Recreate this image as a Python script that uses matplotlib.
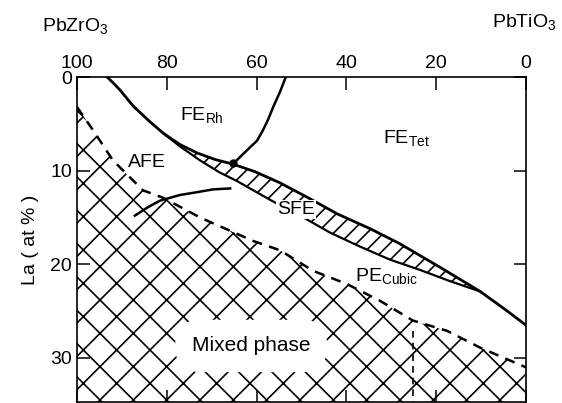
import numpy as np
import matplotlib
matplotlib.use("Agg")
import matplotlib.pyplot as plt

plt.rcParams["font.family"] = ["Liberation Sans", "DejaVu Sans"]
plt.rcParams["mathtext.default"] = "regular"
plt.rcParams["hatch.linewidth"] = 1.2

# composition axis: % PbZrO3 (100 -> 0), depth axis: La (at %)
upper_c = [93.3, 92.0, 90.4, 87.5, 83.7, 80.8, 77.1, 73.3, 69.3, 65.3,
           60.4, 54.8, 48.1, 42.1, 34.7, 28.1, 19.2, 10.2, 4.7, 0.0]
upper_la = [0.0, 0.6, 1.4, 3.1, 4.8, 6.0, 7.2, 8.1, 8.8, 9.3,
            10.1, 11.3, 13.0, 14.6, 16.2, 17.8, 20.3, 22.9, 24.8, 26.5]

lower_c = [80.8, 77.1, 72.6, 68.2, 64.4, 60.0, 54.8, 50.3, 43.7, 37.0,
           30.3, 23.6, 16.9, 10.2]
lower_la = [6.0, 7.4, 8.9, 10.2, 11.1, 12.3, 13.7, 14.8, 16.6, 18.1,
            19.5, 20.6, 21.8, 22.9]

arc_c = [87.1, 84.2, 81.5, 77.1, 73.3, 69.7, 65.9]
arc_la = [14.8, 13.9, 13.2, 12.6, 12.3, 12.0, 11.9]

rh_c = [65.3, 62.1, 59.9, 58.6, 57.4, 56.3, 54.8, 53.5]
rh_la = [9.3, 7.8, 6.8, 5.7, 4.5, 3.2, 1.6, 0.0]

mixed_c = [100.0, 96.4, 92.0, 85.3, 80.8, 72.6, 60.8, 54.8, 47.4, 39.9,
           32.5, 25.2, 17.6, 10.2, 0.0]
mixed_la = [3.2, 5.7, 8.9, 12.1, 12.9, 15.0, 17.5, 18.5, 20.7, 22.1,
            23.9, 26.0, 27.1, 28.9, 31.0]

split_c = [25.2, 25.2]
split_la = [27.1, 34.7]

triple_c, triple_la = 65.3, 9.2

x_ticks = [100, 80, 60, 40, 20, 0]
y_ticks = [0, 10, 20, 30]

fig = plt.figure(figsize=(5.62, 4.03), dpi=100)
ax = fig.add_axes([77 / 562, 1 / 403, 449 / 562, 325 / 403])
ax.set_xlim(100, 0)
ax.set_ylim(34.7, 0)

# mixed phase region (cross hatched)
ax.fill(mixed_c + [0.0, 100.0], mixed_la + [40.0, 40.0], facecolor="none",
        edgecolor="black", linewidth=0, hatch="x")
ax.plot(mixed_c, mixed_la, color="black", lw=1.8, ls=(0, (4, 3)))
ax.plot(split_c, split_la, color="black", lw=1.2, ls=(0, (4, 3)))

# SFE band
bu = [(c, l) for c, l in zip(upper_c, upper_la) if 10.2 <= c <= 80.8]
band_c = [p[0] for p in bu] + lower_c[::-1]
band_la = [p[1] for p in bu] + lower_la[::-1]
ax.fill(band_c, band_la, facecolor="none", edgecolor="black", linewidth=0,
        hatch="//")

ax.plot(upper_c, upper_la, color="black", lw=2.0)
ax.plot(lower_c, lower_la, color="black", lw=1.6)
ax.plot(arc_c, arc_la, color="black", lw=1.8)
ax.plot(rh_c, rh_la, color="black", lw=1.8)
ax.plot([triple_c], [triple_la], "o", color="black", ms=5)

ax.text(77.1, 4.6, r"FE$_{Rh}$", fontsize=14)
ax.text(88.6, 9.6, "AFE", fontsize=14)
ax.text(31.8, 7.0, r"FE$_{Tet}$", fontsize=14)
ax.text(55.5, 14.6, "SFE", fontsize=14,
        bbox=dict(boxstyle="square,pad=0.05", facecolor="white",
                  edgecolor="none"))
ax.text(38.1, 21.8, r"PE$_{Cubic}$", fontsize=14)
ax.text(74.4, 29.3, "Mixed phase", fontsize=15,
        bbox=dict(boxstyle="round,pad=0.8,rounding_size=1.2",
                  facecolor="white", edgecolor="none"))

ax.set_xticks(x_ticks)
ax.set_yticks(y_ticks)
ax.tick_params(axis="both", direction="in", length=9, width=1.1,
               labelsize=14, top=True, bottom=True, left=True, right=True,
               labeltop=True, labelbottom=False)
ax.set_ylabel("La ( at % )", fontsize=14, labelpad=8)
for s in ax.spines.values():
    s.set_linewidth(1.2)

fig.text(42 / 562, 1 - 31 / 403, r"PbZrO$_3$", fontsize=14)
fig.text(492 / 562, 1 - 27 / 403, r"PbTiO$_3$", fontsize=14)

fig.savefig("out.png", dpi=100)
